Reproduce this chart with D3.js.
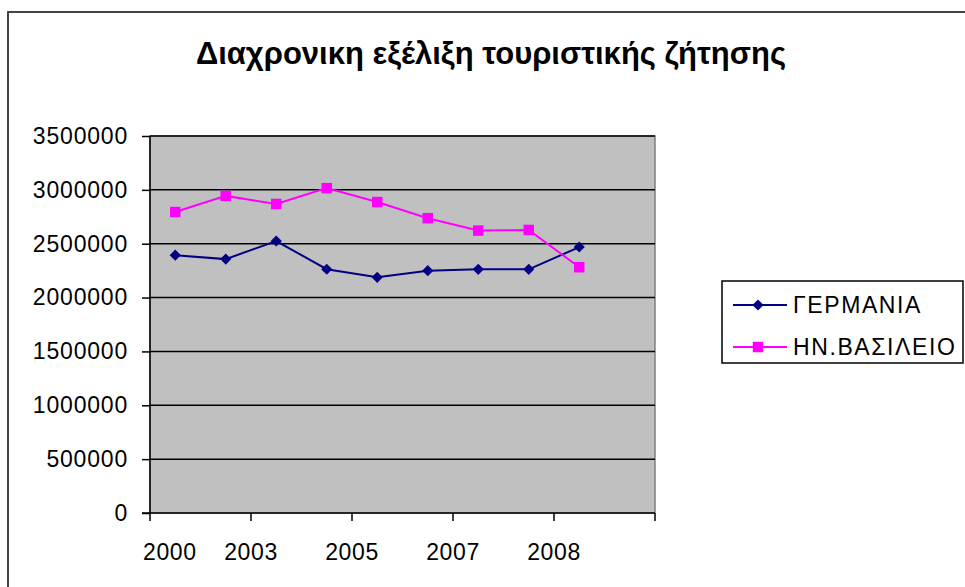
<!DOCTYPE html>
<html>
<head>
<meta charset="utf-8">
<script src="https://cdn.jsdelivr.net/npm/d3@7"></script>
<style>
  body { margin: 0; background: #fff; }
  text { font-family: "Liberation Sans", Arial, sans-serif; }
</style>
</head>
<body>
<div id="chart"></div>
<script>
// category slots on the x axis (10 slots, labels only every second boundary)
var categories = ["1", "2", "3", "4", "5", "6", "7", "8", "9", "10"];
var tickLabels = ["2000", "2003", "2005", "2007", "2008"];
var yTicks = [0, 500000, 1000000, 1500000, 2000000, 2500000, 3000000, 3500000];

var germany = [2394000, 2357000, 2525000, 2263000, 2188000, 2250000, 2262000, 2262000, 2469000];
var uk = [2794000, 2944000, 2869000, 3016000, 2887000, 2737000, 2622000, 2628000, 2282000];

var seriesNames = ["ΓΕΡΜΑΝΙΑ", "ΗΝ.ΒΑΣΙΛΕΙΟ"];
var title = "Διαχρονικη εξέλιξη τουριστικής ζήτησης";

var w = 965, h = 587;
var pLeft = 150, pRight = 655, pTop = 136, pBottom = 513;

var svg = d3.select("#chart").append("svg")
    .attr("width", w)
    .attr("height", h);

// outer chart border (only left and top visible)
svg.append("path")
    .attr("d", "M8,587V12H965")
    .attr("fill", "none")
    .attr("stroke", "#444")
    .attr("stroke-width", 2);

svg.append("text")
    .attr("x", 491)
    .attr("y", 64)
    .attr("text-anchor", "middle")
    .attr("font-size", 31)
    .attr("font-weight", "bold")
    .text(title);

var x = d3.scaleBand().domain(categories).range([pLeft, pRight]),
    y = d3.scaleLinear().domain([0, 3500000]).range([pBottom, pTop]);

// plot area
svg.append("rect")
    .attr("x", pLeft)
    .attr("y", pTop)
    .attr("width", pRight - pLeft)
    .attr("height", pBottom - pTop)
    .attr("fill", "#c0c0c0")
    .attr("stroke", "#808080")
    .attr("stroke-width", 1.5);

// gridlines
svg.selectAll(".grid")
    .data(yTicks.slice(1))
    .enter().append("line")
    .attr("class", "grid")
    .attr("x1", pLeft)
    .attr("x2", pRight)
    .attr("y1", function (d) { return y(d); })
    .attr("y2", function (d) { return y(d); })
    .attr("stroke", "#000")
    .attr("stroke-width", 1.5);

// y axis
var yAxis = svg.append("g")
    .attr("transform", "translate(" + pLeft + ",0)")
    .call(d3.axisLeft(y).tickValues(yTicks).tickSize(8).tickPadding(14).tickFormat(d3.format("d")));
yAxis.selectAll("text").attr("font-size", 23).attr("fill", "#000")
    .attr("letter-spacing", 0.8)
    .attr("font-family", "Liberation Sans, Arial, sans-serif");
yAxis.selectAll("line, path").attr("stroke", "#000").attr("stroke-width", 1.5);
yAxis.select(".domain").attr("d", "M0," + pBottom + "V" + pTop);

// x axis: ticks at every second category boundary
var boundaries = categories.filter(function (d, i) { return i % 2 === 0; })
    .map(function (d) { return x(d); }).concat([pRight]);

var xAxis = svg.append("g");
xAxis.append("line")
    .attr("x1", pLeft - 8).attr("x2", pRight)
    .attr("y1", pBottom).attr("y2", pBottom)
    .attr("stroke", "#000").attr("stroke-width", 1.5);
xAxis.selectAll(".xtick")
    .data(boundaries)
    .enter().append("line")
    .attr("x1", function (d) { return d; })
    .attr("x2", function (d) { return d; })
    .attr("y1", pBottom)
    .attr("y2", pBottom + 8)
    .attr("stroke", "#000").attr("stroke-width", 1.5);
xAxis.selectAll(".xlabel")
    .data(tickLabels)
    .enter().append("text")
    .attr("x", function (d, i) { return i === 0 ? x(categories[0]) - 7 : x(categories[i * 2]); })
    .attr("y", pBottom + 47)
    .attr("text-anchor", function (d, i) { return i === 0 ? "start" : "middle"; })
    .attr("font-size", 23)
    .attr("letter-spacing", 0.6)
    .text(function (d) { return d; });

// series (diamond = square rotated 45deg, like Excel's marker)
var series = [
    { name: seriesNames[0], values: germany, color: "#000080", symbol: d3.symbolSquare, size: 62, rotate: 45 },
    { name: seriesNames[1], values: uk, color: "#ff00ff", symbol: d3.symbolSquare, size: 110, rotate: 0 }
];

var line = d3.line()
    .x(function (d, i) { return x(categories[i]) + x.bandwidth() / 2; })
    .y(function (d) { return y(d); });

series.forEach(function (s) {
    svg.append("path")
        .attr("d", line(s.values))
        .attr("fill", "none")
        .attr("stroke", s.color)
        .attr("stroke-width", 2);

    svg.selectAll(null)
        .data(s.values)
        .enter().append("path")
        .attr("d", d3.symbol().type(s.symbol).size(s.size))
        .attr("transform", function (d, i) {
            return "translate(" + (x(categories[i]) + x.bandwidth() / 2) + "," + y(d) + ") rotate(" + s.rotate + ")";
        })
        .attr("fill", s.color);
});

// legend
var legend = svg.append("g").attr("transform", "translate(722,281)");
legend.append("rect")
    .attr("width", 241).attr("height", 82)
    .attr("fill", "#fff").attr("stroke", "#000").attr("stroke-width", 1.5);

var items = legend.selectAll(".item")
    .data(series)
    .enter().append("g")
    .attr("transform", function (d, i) { return "translate(0," + (24 + i * 42) + ")"; });
items.append("line")
    .attr("x1", 11).attr("x2", 65)
    .attr("stroke", function (d) { return d.color; })
    .attr("stroke-width", 2);
items.append("path")
    .attr("transform", function (d) { return "translate(36,0) rotate(" + d.rotate + ")"; })
    .attr("d", function (d) { return d3.symbol().type(d.symbol).size(d.size)(); })
    .attr("fill", function (d) { return d.color; });
items.append("text")
    .attr("x", 71)
    .attr("y", 8)
    .attr("font-size", 23)
    .attr("letter-spacing", 1.6)
    .text(function (d) { return d.name; });
</script>
</body>
</html>
